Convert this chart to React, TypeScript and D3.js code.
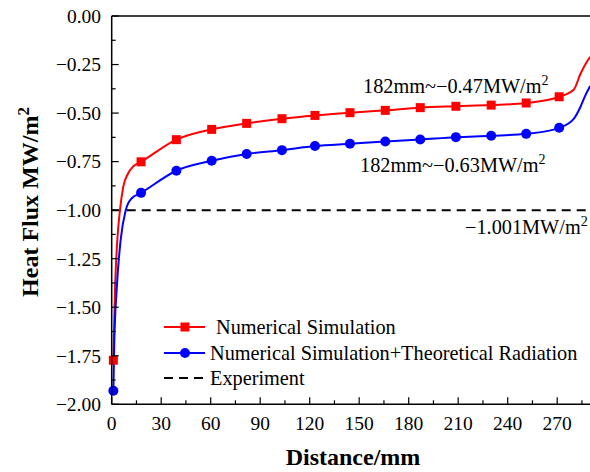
import React from "react";
import * as d3 from "d3";

// Marker positions (mm) and values (MW/m^2)
const markerX = [1, 17.8, 39.2, 60.6, 81.8, 103.2, 123.2, 144.4, 165.8, 187, 208.6, 230, 251.2, 271.2];
const redMarkerY = [-1.773, -0.751, -0.637, -0.584, -0.553, -0.529, -0.512, -0.498, -0.486, -0.472, -0.465, -0.459, -0.448, -0.416];
const blueMarkerY = [-1.93, -0.911, -0.797, -0.746, -0.711, -0.691, -0.67, -0.658, -0.646, -0.636, -0.624, -0.617, -0.607, -0.576];

// Extra line points (between markers)
const redExtraX = [2, 3.4, 5, 7, 10, 13, 280, 284, 287, 290];
const redExtraY = [-1.41, -1.155, -1.0, -0.88, -0.81, -0.775, -0.38, -0.3, -0.25, -0.21];
const blueExtraX = [1.6, 3, 5.4, 8.5, 12, 280, 284, 287, 290];
const blueExtraY = [-1.67, -1.41, -1.155, -1.0, -0.94, -0.53, -0.47, -0.41, -0.36];

const experimentValue = -1.001;

const xTicks = [0, 30, 60, 90, 120, 150, 180, 210, 240, 270];
const yTicks = [0, -0.25, -0.5, -0.75, -1.0, -1.25, -1.5, -1.75, -2.0];

const RED = "#ff0000";
const BLUE = "#0000ff";
const FONT = "'Liberation Serif', 'Times New Roman', serif";

function merge(xs: number[], ys: number[], ex: number[], ey: number[]) {
  const pts = xs.map((x, i) => [x, ys[i]] as [number, number]).concat(ex.map((x, i) => [x, ey[i]] as [number, number]));
  pts.sort((a, b) => a[0] - b[0]);
  return pts;
}

function fmt(v: number) {
  const s = Math.abs(v).toFixed(2);
  return v < 0 ? "\u2212" + s : s;
}

export default function App() {
  const W = 590, H = 472;
  const x = d3.scaleLinear().domain([0, 290]).range([111.7, 590.2]);
  const y = d3.scaleLinear().domain([-2, 0]).range([404.3, 16]);
  const line = d3
    .line<[number, number]>()
    .x((d) => x(d[0]))
    .y((d) => y(d[1]))
    .curve(d3.curveMonotoneX);

  const redPts = merge(markerX, redMarkerY, redExtraX, redExtraY);
  const bluePts = merge(markerX, blueMarkerY, blueExtraX, blueExtraY);

  const x0 = x(0), yB = y(-2), yT = y(0);
  const yMinor = d3.range(0, 16).map((i) => -0.125 - i * 0.25).filter((v) => v > -2);
  const xMinor = d3.range(15, 290, 30);
  const FS = 20.3;

  return (
    <div style={{ position: "absolute", left: 0, top: 0 }}>
      <svg width={W} height={H} style={{ display: "block", background: "#fff" }} fontFamily={FONT}>
        {/* experiment dashed line */}
        <line x1={x(0)} x2={x(290)} y1={y(experimentValue)} y2={y(experimentValue)} stroke="#000" strokeWidth={2} strokeDasharray="9,6" />
        {/* series lines */}
        <path d={line(redPts) || ""} fill="none" stroke={RED} strokeWidth={2} />
        <path d={line(bluePts) || ""} fill="none" stroke={BLUE} strokeWidth={2} />
        {markerX.map((mx, i) => (
          <rect key={"r" + i} x={x(mx) - 4.5} y={y(redMarkerY[i]) - 4.5} width={9} height={9} fill={RED} />
        ))}
        {markerX.map((mx, i) => (
          <circle key={"b" + i} cx={x(mx)} cy={y(blueMarkerY[i])} r={5} fill={BLUE} />
        ))}

        {/* axes */}
        <line x1={x0} x2={x0} y1={yT} y2={yB} stroke="#000" strokeWidth={1.5} />
        <line x1={x0} x2={W} y1={yB} y2={yB} stroke="#000" strokeWidth={1.5} />
        <line x1={x0} x2={W} y1={yT} y2={yT} stroke="#000" strokeWidth={1.5} />

        {yTicks.map((t) => (
          <g key={"yt" + t}>
            <line x1={x0} x2={x0 + 7} y1={y(t)} y2={y(t)} stroke="#000" strokeWidth={1.2} />
            <text x={101} y={y(t)} dy="0.35em" textAnchor="end" fontSize={19.5}>{fmt(t)}</text>
          </g>
        ))}
        {yMinor.map((t) => (
          <line key={"ym" + t} x1={x0} x2={x0 + 4} y1={y(t)} y2={y(t)} stroke="#000" strokeWidth={1.2} />
        ))}
        {xTicks.map((t) => (
          <g key={"xt" + t}>
            <line x1={x(t)} x2={x(t)} y1={yB} y2={yB - 7} stroke="#000" strokeWidth={1.2} />
            <text x={x(t)} y={430} textAnchor="middle" fontSize={19.5}>{t}</text>
          </g>
        ))}
        {xMinor.map((t) => (
          <line key={"xm" + t} x1={x(t)} x2={x(t)} y1={yB} y2={yB - 4} stroke="#000" strokeWidth={1.2} />
        ))}

        {/* axis titles */}
        <text x={353} y={465} textAnchor="middle" fontSize={24} fontWeight="bold">Distance/mm</text>
        <text transform="translate(38,202) rotate(-90)" textAnchor="middle" fontSize={24} fontWeight="bold">
          Heat Flux MW/m<tspan dy={-9} fontSize={17}>2</tspan>
        </text>

        {/* annotations */}
        <text x={363} y={93} fontSize={FS}>
          182mm~{"\u2212"}0.47MW/m<tspan dy={-8} fontSize={14}>2</tspan>
        </text>
        <text x={360} y={171.5} fontSize={FS}>
          182mm~{"\u2212"}0.63MW/m<tspan dy={-8} fontSize={14}>2</tspan>
        </text>
        <text x={465} y={234} fontSize={FS}>
          {"\u2212"}1.001MW/m<tspan dy={-8} fontSize={14}>2</tspan>
        </text>

        {/* legend */}
        <line x1={164} x2={205} y1={327} y2={327} stroke={RED} strokeWidth={2} />
        <rect x={180.5} y={322.5} width={9} height={9} fill={RED} />
        <text x={216} y={334} fontSize={FS}>Numerical Simulation</text>
        <line x1={164} x2={205} y1={353} y2={353} stroke={BLUE} strokeWidth={2} />
        <circle cx={185} cy={353} r={5} fill={BLUE} />
        <text x={210} y={360} fontSize={FS}>Numerical Simulation+Theoretical Radiation</text>
        <line x1={164} x2={205} y1={378} y2={378} stroke="#000" strokeWidth={2} strokeDasharray="9,6" />
        <text x={210} y={385} fontSize={FS}>Experiment</text>
      </svg>
    </div>
  );
}
